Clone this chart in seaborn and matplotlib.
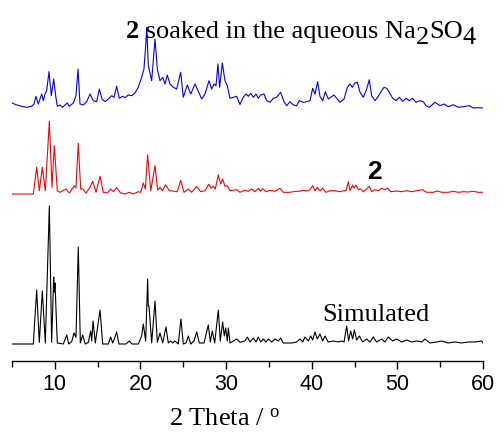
import numpy as np
import pandas as pd
import seaborn as sns
import matplotlib.pyplot as plt
from matplotlib.ticker import MultipleLocator

# Simulated pattern (2 theta / deg, intensity a.u.)
sim_2theta = [5.0, 7.49, 7.88, 8.19, 8.54, 8.89, 9.36, 9.63, 9.87, 9.94, 10.02, 10.29, 10.99, 11.39, 11.62,
              11.97, 12.24, 12.47, 12.74, 12.98, 13.25, 13.56, 13.91, 14.19, 14.31, 14.46, 14.73, 15.28, 15.59,
              16.25, 16.52, 16.76, 16.99, 17.22, 17.49, 18.31, 18.7, 19.01, 19.75, 20.14, 20.33, 20.61, 20.84,
              20.91, 21.0, 21.31, 21.7, 21.97, 22.28, 22.6, 22.98, 23.25, 23.53, 23.77, 24.03, 24.42, 24.73,
              25.0, 25.32, 25.59, 25.87, 26.25, 26.57, 26.87, 27.42, 27.92, 28.16, 28.39, 28.67, 29.09, 29.32,
              29.6, 29.79, 29.95, 30.14, 30.26, 30.46, 30.84, 31.24, 31.62, 32.2, 32.48, 32.79, 33.18, 33.49,
              33.76, 34.04, 34.35, 34.66, 34.93, 35.32, 35.71, 36.1, 36.37, 36.68, 37.66, 38.24, 38.63, 38.95,
              39.21, 39.6, 39.88, 40.11, 40.38, 40.65, 40.96, 41.28, 41.55, 41.93, 42.52, 43.1, 43.5, 43.77,
              44.08, 44.31, 44.55, 44.78, 44.97, 45.25, 45.56, 45.95, 46.42, 46.8, 47.19, 47.58, 48.17, 48.55,
              48.94, 49.45, 49.92, 50.5, 51.09, 51.67, 52.26, 52.84, 53.22, 53.81, 54.59, 55.18, 55.95, 56.73,
              57.51, 58.28, 59.06, 59.84, 60.0]
sim_int = [0, 0, 54, 1.7, 53, 1, 138, 1.7, 67, 52, 61, 1, 0, 9, 0,
           2.3, 11, 6.7, 97, 1, 9, 0, 1.7, 13, 3, 23, 1, 34, 0,
           0, 7, 1, 6, 12, 0, 0, 3, 0, 0, 8, 20, 3, 65,
           38, 38, 1, 43, 1.7, 11, 1, 17, 1, 3, 1, 3, 0, 25,
           0, 1, 8, 0, 3, 12, 1, 1, 19, 2, 13, 1, 34, 3,
           22, 8, 16, 3, 16, 1, 3, 5, 1.7, 3, 7, 2, 6, 2,
           7, 2, 5, 2, 5, 2, 5, 3, 6, 1, 1, 2, 5, 2,
           7, 3, 8, 4, 12, 5, 10, 3, 8, 2, 3, 2, 3, 2,
           18, 3, 13, 5, 14, 4, 8, 2, 5, 2, 7, 2, 5, 2,
           7, 3, 5, 2, 4, 2, 3, 2, 5, 1, 2, 3, 1, 2,
           1, 2, 2, 3, 1]

# as-synthesised compound 2
c2_2theta = [5.0, 7.49, 7.88, 8.19, 8.54, 8.89, 9.36, 9.67, 9.94, 10.29, 10.6, 11.31, 11.7, 12.28, 12.47,
             12.74, 13.02, 13.25, 13.64, 14.1, 14.42, 14.81, 15.28, 15.66, 16.13, 16.52, 16.83, 17.22, 17.69,
             18.2, 18.7, 19.17, 19.75, 20.03, 20.33, 20.57, 20.84, 21.2, 21.7, 22.01, 22.28, 22.55, 22.94,
             23.37, 24.03, 24.3, 24.7, 25.08, 25.59, 25.98, 26.56, 27.03, 27.54, 27.97, 28.24, 28.51, 28.74,
             29.09, 29.37, 29.6, 29.87, 30.14, 30.46, 31.24, 31.62, 32.2, 32.6, 32.99, 33.37, 33.76, 34.04,
             34.27, 34.66, 35.13, 35.71, 36.29, 36.68, 37.46, 38.04, 38.55, 39.02, 39.41, 39.8, 40.11, 40.38,
             40.65, 40.96, 41.28, 41.67, 42.13, 42.72, 43.3, 43.77, 44.0, 44.27, 44.47, 44.78, 44.93, 45.17,
             45.44, 45.72, 46.02, 46.34, 46.72, 47.0, 47.39, 47.77, 48.17, 48.55, 48.87, 49.22, 49.92, 50.5,
             51.09, 51.67, 52.26, 52.91, 53.42, 54.2, 54.66, 55.18, 55.95, 56.53, 57.11, 57.7, 58.28, 58.86,
             59.44, 59.96]
c2_int = [0, 0, 26.7, 3.3, 26.7, 3.3, 72.7, 6.7, 48.3, 3.3, 1.7, 5, 1, 8.3, 6,
          50.7, 5, 5, 1, 6.7, 12.7, 1.7, 17.7, 1.7, 1, 5, 2.3, 6.3, 1,
          0, 1.7, 0, 2.3, 1.7, 11, 5, 39.3, 3.3, 28.3, 4, 6.7, 3.3, 9.3,
          3.3, 2.7, 2.3, 13.7, 1.7, 5, 1.7, 7.7, 2.3, 3.3, 9.7, 6, 7.7, 5,
          19, 10, 15, 7.7, 8.3, 3.3, 4.3, 1.7, 3.7, 2.7, 5, 2.3, 5.7, 2.7,
          5.3, 2.3, 3.7, 2.7, 5.7, 1.7, 1.7, 2.7, 2.7, 3.7, 3, 4.3, 8.3, 3.3,
          6.7, 3, 5.7, 1.7, 3.3, 3.3, 2.3, 3.3, 3.3, 12.3, 3.3, 9, 5.7, 9,
          4.3, 5, 2.3, 4.3, 7.7, 2.3, 4.3, 3.3, 5.7, 4.3, 5.7, 2.3, 3, 2.3,
          3.3, 2.3, 3.3, 4.3, 1.7, 1.7, 3, 1.7, 1.7, 2.7, 1.7, 2.3, 2, 2.7,
          1.7, 1.7]

# 2 after soaking in aqueous Na2SO4
soak_2theta = [5.0, 5.55, 6.13, 6.72, 7.3, 7.57, 7.8, 8.07, 8.47, 8.66, 8.85, 9.05, 9.32, 9.59, 9.87,
               10.1, 10.29, 10.6, 10.92, 11.19, 11.46, 11.69, 12.16, 12.47, 12.71, 12.94, 13.33, 13.72, 14.11,
               14.49, 14.89, 15.2, 15.51, 15.86, 16.25, 16.64, 16.91, 17.22, 17.53, 17.93, 18.2, 18.58, 18.98,
               19.36, 19.75, 20.14, 20.41, 20.61, 20.73, 20.92, 21.31, 21.7, 21.97, 22.28, 22.6, 22.87, 23.13,
               23.45, 23.84, 24.23, 24.7, 25.0, 25.47, 25.87, 26.37, 26.64, 27.15, 27.54, 28.0, 28.32, 28.59,
               28.82, 29.05, 29.25, 29.56, 29.87, 30.14, 30.46, 30.84, 31.24, 31.62, 32.0, 32.33, 32.6, 32.87,
               33.18, 33.49, 33.76, 34.04, 34.43, 34.74, 35.13, 35.51, 35.9, 36.37, 36.76, 37.07, 37.46, 37.85,
               38.24, 38.55, 39.02, 39.41, 39.8, 40.11, 40.38, 40.69, 40.96, 41.28, 41.59, 41.93, 42.6, 42.99,
               43.3, 43.77, 44.16, 44.47, 44.74, 45.05, 45.33, 45.64, 46.02, 46.42, 46.72, 47.0, 47.39, 47.77,
               48.17, 48.44, 48.75, 49.06, 49.45, 49.84, 50.23, 50.62, 51.01, 51.39, 51.79, 52.17, 52.64, 53.03,
               53.34, 53.73, 54.39, 54.98, 55.44, 55.95, 56.53, 57.11, 57.7, 58.4, 58.86, 59.44, 59.96]
soak_int = [5, 3, 1.7, 0.7, 1.7, 4, 11.7, 4, 14, 7.3, 14, 17.3, 36.3, 12.3, 29,
            12.3, 1.7, 3, 0.7, 3, 5, 1.7, 5, 12.3, 39, 4, 3, 6.3, 14,
            7.3, 6.3, 19, 9, 6.3, 9, 12.3, 10.7, 21.7, 9.7, 11.7, 10.3, 13, 12.3,
            15, 20.7, 30.7, 39, 62.3, 80.7, 42.3, 27.3, 69, 39, 27.3, 30.7, 24, 33,
            24, 20.7, 19, 35.7, 10.7, 23, 14, 24, 19, 9, 14, 27.3, 19, 24,
            22.3, 44, 20.7, 45, 27.3, 22.3, 9.7, 10.7, 11.7, 3.5, 10.7, 14, 11.7, 14.7,
            10.7, 14, 9.7, 13, 14, 7.3, 5.7, 9.7, 10.7, 15.7, 6.3, 2.3, 6.3, 3,
            2.3, 7.3, 5.7, 6.3, 7.3, 19.7, 14, 26.3, 11.7, 7.3, 16.3, 9, 13, 9,
            5.7, 9, 20.7, 24, 20.7, 25, 25.7, 15.7, 10.7, 19, 28.3, 12.3, 7.3, 11.7,
            17.3, 20.7, 19.7, 15.7, 9.7, 7.3, 10.7, 6.7, 9.7, 7.3, 9.7, 5.7, 7.3, 6.3,
            2.3, 0.7, 5.7, 2.3, 4, 1.3, 3.3, 0.7, 1.3, 2.3, 0, 0.3, 0]

# vertical stacking offsets
sim_offset = 0
c2_offset = 150
soak_offset = 236

sns.set_style('white')
plt.rcParams['font.family'] = ['Liberation Sans', 'DejaVu Sans']
plt.rcParams['mathtext.fontset'] = 'custom'
plt.rcParams['mathtext.rm'] = 'Liberation Serif'
plt.rcParams['mathtext.it'] = 'Liberation Serif:italic'
plt.rcParams['text.color'] = 'black'
plt.rcParams['axes.labelcolor'] = 'black'
plt.rcParams['xtick.color'] = 'black'

fig = plt.figure(figsize=(5.04, 4.35), dpi=100)
ax = fig.add_axes([12 / 504, 73 / 435, 471 / 504, 362 / 435])

sns.lineplot(x=sim_2theta, y=np.array(sim_int) + sim_offset, color='black', lw=0.8, ax=ax)
sns.lineplot(x=c2_2theta, y=np.array(c2_int) + c2_offset, color='#ff0000', lw=0.8, ax=ax)
sns.lineplot(x=soak_2theta, y=np.array(soak_int) + soak_offset, color='#0000ff', lw=0.8, ax=ax)

ax.set_xlim(5, 60)
ax.set_ylim(-17, 345)
ax.set_yticks([])
ax.xaxis.set_major_locator(MultipleLocator(10))
ax.xaxis.set_minor_locator(MultipleLocator(5))
ax.tick_params(axis='x', which='major', bottom=True, direction='out', length=6, width=1,
               labelsize=15.5, pad=2.5, color='black', labelcolor='black')
ax.tick_params(axis='x', which='minor', bottom=True, direction='out', length=4, width=1, color='black')
for s in ['top', 'left', 'right']:
    ax.spines[s].set_visible(False)
ax.spines['bottom'].set_color('black')
ax.spines['bottom'].set_linewidth(1)

ax.set_xlabel('2 Theta / $^{\\rm o}$', family='Liberation Serif', fontsize=19, color='black')
ax.xaxis.set_label_coords(0.451, -0.13)

# labels
serif = dict(family='Liberation Serif', fontsize=19, color='black')
t1 = ax.text(18.3, 307, '2', fontweight='bold', va='baseline', ha='left', **serif)
t2 = ax.annotate(' soaked in the aqueous Na', xy=(1, 0), xycoords=t1, va='bottom', ha='left', **serif)
t3 = ax.annotate('2', xy=(1, 0), xycoords=t2, xytext=(0, -4), textcoords='offset points',
                 va='bottom', ha='left', **serif)
t4 = ax.annotate('SO', xy=(1, 0), xycoords=t3, xytext=(0, 4), textcoords='offset points',
                 va='bottom', ha='left', **serif)
t5 = ax.annotate('4', xy=(1, 0), xycoords=t4, xytext=(0, -4), textcoords='offset points',
                 va='bottom', ha='left', **serif)

ax.text(47.27, 166, '2', fontweight='bold', fontsize=19, family='Liberation Sans',
        ha='center', va='baseline', color='black')
ax.text(47.5, 24.3, 'Simulated', ha='center', va='baseline', **serif)

plt.savefig('out.png', dpi=100)
